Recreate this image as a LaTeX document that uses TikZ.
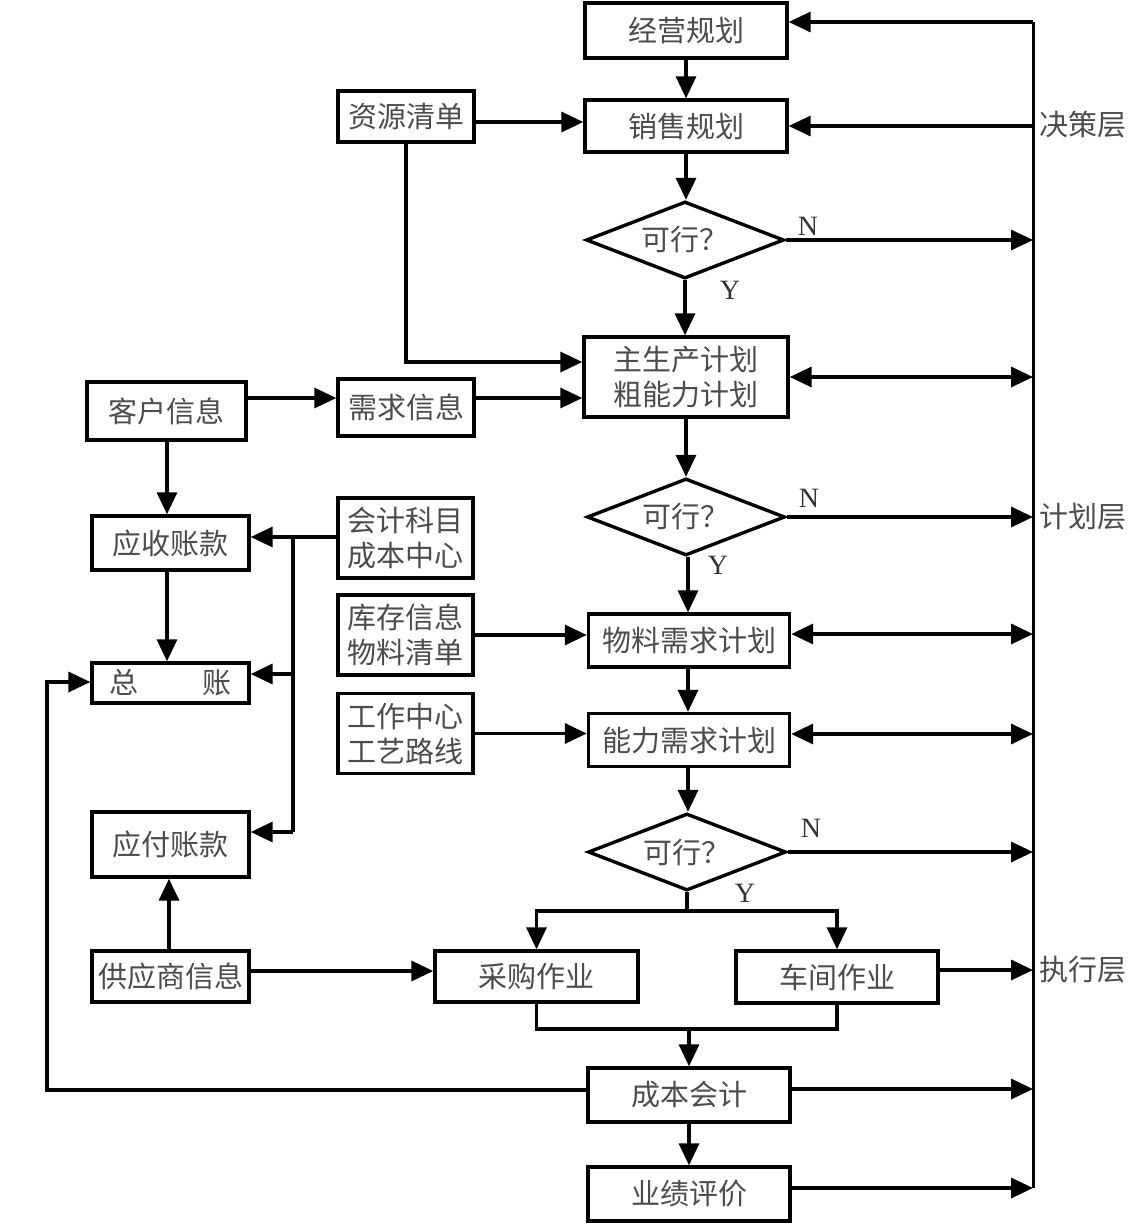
\documentclass[tikz,border=0pt]{standalone}
\usepackage{fontspec}
\setmainfont{Liberation Serif}
\newfontfamily\cjk{Noto Sans CJK SC}
\usetikzlibrary{arrows.meta,shapes.geometric}
\begin{document}
\begin{tikzpicture}[x=1pt,y=-1pt,
 box/.style={draw,line width=3.4pt,inner sep=0pt,font=\cjk\fontsize{29}{35}\selectfont,text=black!70,align=center},
 dia/.style={diamond,aspect=2.6,draw,line width=3.4pt,inner sep=0pt,font=\cjk\fontsize{29}{35}\selectfont,text=black!70,minimum width=198pt,minimum height=77pt},
 ln/.style={line width=3.4pt},
 bus/.style={line width=3pt},
 arr/.style={ln,-{Triangle[length=22pt,width=20pt]}},
 dbl/.style={ln,{Triangle[length=22pt,width=20pt]}-{Triangle[length=22pt,width=20pt]}},
 lbl/.style={font=\cjk\fontsize{29}{35}\selectfont,text=black!70,anchor=west,inner sep=0pt},
 yn/.style={font=\fontsize{28}{32}\selectfont,text=black!80,inner sep=0pt}]
\useasboundingbox (0,0) rectangle (1131,1223);

% main column
\node[box,minimum width=202pt,minimum height=55pt] (jy) at (686,30.5) {经营规划};
\node[box,minimum width=202pt,minimum height=52pt] (xs) at (686,126) {销售规划};
\node[dia] (d1) at (685,240) {可行？};
\node[box,minimum width=204pt,minimum height=80pt] (zsc) at (686,377) {主生产计划\\粗能力计划};
\node[dia] (d2) at (686,517) {可行？};
\node[box,minimum width=201pt,minimum height=53pt] (wl) at (689,640.5) {物料需求计划};
\node[box,minimum width=201pt,minimum height=53pt] (nl) at (689,740) {能力需求计划};
\node[dia] (d3) at (687,852) {可行？};
\node[box,minimum width=203pt,minimum height=51pt] (cg) at (536.5,976.5) {采购作业};
\node[box,minimum width=202pt,minimum height=52pt] (cj) at (837,977) {车间作业};
\node[box,minimum width=202pt,minimum height=54pt] (cb) at (689,1095) {成本会计};
\node[box,minimum width=202pt,minimum height=54pt] (yj) at (689,1194) {业绩评价};

% middle column
\node[box,minimum width=136pt,minimum height=51pt] (zy) at (406,116.5) {资源清单};
\node[box,minimum width=136pt,minimum height=57pt] (xq) at (406,407.5) {需求信息};
\node[box,minimum width=135pt,minimum height=80pt] (kj) at (405.5,538) {会计科目\\成本中心};
\node[box,minimum width=135pt,minimum height=80pt] (kc) at (405.5,635) {库存信息\\物料清单};
\node[box,minimum width=135pt,minimum height=80pt] (gz) at (405.5,733.5) {工作中心\\工艺路线};

% left column
\node[box,minimum width=159pt,minimum height=58pt] (kh) at (166.5,411) {客户信息};
\node[box,minimum width=157pt,minimum height=54pt] (ys) at (170.5,543) {应收账款};
\node[box,minimum width=157pt,minimum height=40pt] (zz) at (170.5,683) {总\hspace{2.2em}账};
\node[box,minimum width=157pt,minimum height=65pt] (yf) at (170.5,844.5) {应付账款};
\node[box,minimum width=157pt,minimum height=51pt] (gy) at (170.5,976.5) {供应商信息};

% right bus and layer labels
\coordinate (bt) at (1033,22);
\coordinate (bb) at (1033,1188);
\draw[bus] (bt) -- (bb);
\node[lbl] (l1) at (1039,125) {决策层};
\node[lbl] (l2) at (1039,517) {计划层};
\node[lbl] (l3) at (1039,970) {执行层};

\draw[arr] (bt) -- (bt -| jy.east);
\draw[arr] (xs.east -| bt) -- (xs.east);
\draw[arr] (d1.east) -- (d1.east -| bt);
\draw[dbl] (zsc.east) -- (zsc.east -| bt);
\draw[arr] (d2.east) -- (d2.east -| bt);
\draw[dbl] (wl.east |- 0,634) -- (bt |- 0,634);
\draw[dbl] (nl.east |- 0,734) -- (bt |- 0,734);
\draw[arr] (d3.east) -- (d3.east -| bt);
\draw[arr] (cj.east |- 0,970) -- (bt |- 0,970);
\draw[arr] (cb.east |- 0,1089) -- (bt |- 0,1089);
\draw[arr] (yj.east |- 0,1188) -- (bb);

% N / Y labels
\node[yn] (n1) at (808,226) {N};
\node[yn] (y1) at (730,290) {Y};
\node[yn] (n2) at (809,498) {N};
\node[yn] (y2) at (718,565) {Y};
\node[yn] (n3) at (811,828) {N};
\node[yn] (y3) at (745,893) {Y};

% main flow
\draw[arr] (jy.south) -- (xs.north);
\draw[arr] (xs.south) -- (xs.south |- d1.north);
\draw[arr] (d1.south) -- (d1.south |- zsc.north);
\draw[arr] (zsc.south) -- (zsc.south |- d2.north);
\draw[arr] (d2.south -| 688,0) -- (wl.north -| 688,0);
\draw[arr] (wl.south -| 688,0) -- (nl.north -| 688,0);
\draw[arr] (nl.south -| 688,0) -- (d3.north -| 688,0);
\coordinate (br) at (687,911);
\draw[ln] (d3.south) -- (br);
\draw[arr] (br) -| (cg.north);
\draw[arr] (br) -| (cj.north);
\coordinate (mg) at (689,1029);
\draw[ln] (cg.south) |- (mg) -| (cj.south);
\draw[arr] (mg) -- (cb.north);
\draw[arr] (cb.south) -- (yj.north);

% middle inputs
\draw[arr] (zy.east |- 0,122) -- (xs.west |- 0,122);
\draw[arr] (zy.south) |- (zsc.west |- 0,362);
\draw[arr] (xq.east |- 0,398) -- (zsc.west |- 0,398);
\draw[arr] (kc.east) -- (wl.west |- kc.east);
\draw[arr] (gz.east) -- (nl.west |- gz.east);

% left side
\draw[arr] (kh.east |- 0,398) -- (xq.west |- 0,398);
\draw[arr] (kh.south -| 167,0) -- (ys.north -| 167,0);
\draw[arr] (ys.south -| 167,0) -- (zz.north -| 167,0);
\draw[arr] (gy.north -| 169,0) -- (yf.south -| 169,0);
\coordinate (vt) at (293,537);
\coordinate (vb) at (293,832);
\draw[ln] (kj.west |- vt) -- (vt) -- (vb);
\draw[arr] (vt) -- (vt -| ys.east);
\draw[arr] (293,674) -- (zz.east |- 0,674);
\draw[arr] (vb) -- (vb -| yf.east);
\draw[arr] (gy.east |- 0,971) -- (cg.west |- 0,971);
\coordinate (lp) at (47,1090);
\draw[arr] (cb.west |- lp) -- (lp) |- (zz.west |- 0,682);
\end{tikzpicture}
\end{document}
